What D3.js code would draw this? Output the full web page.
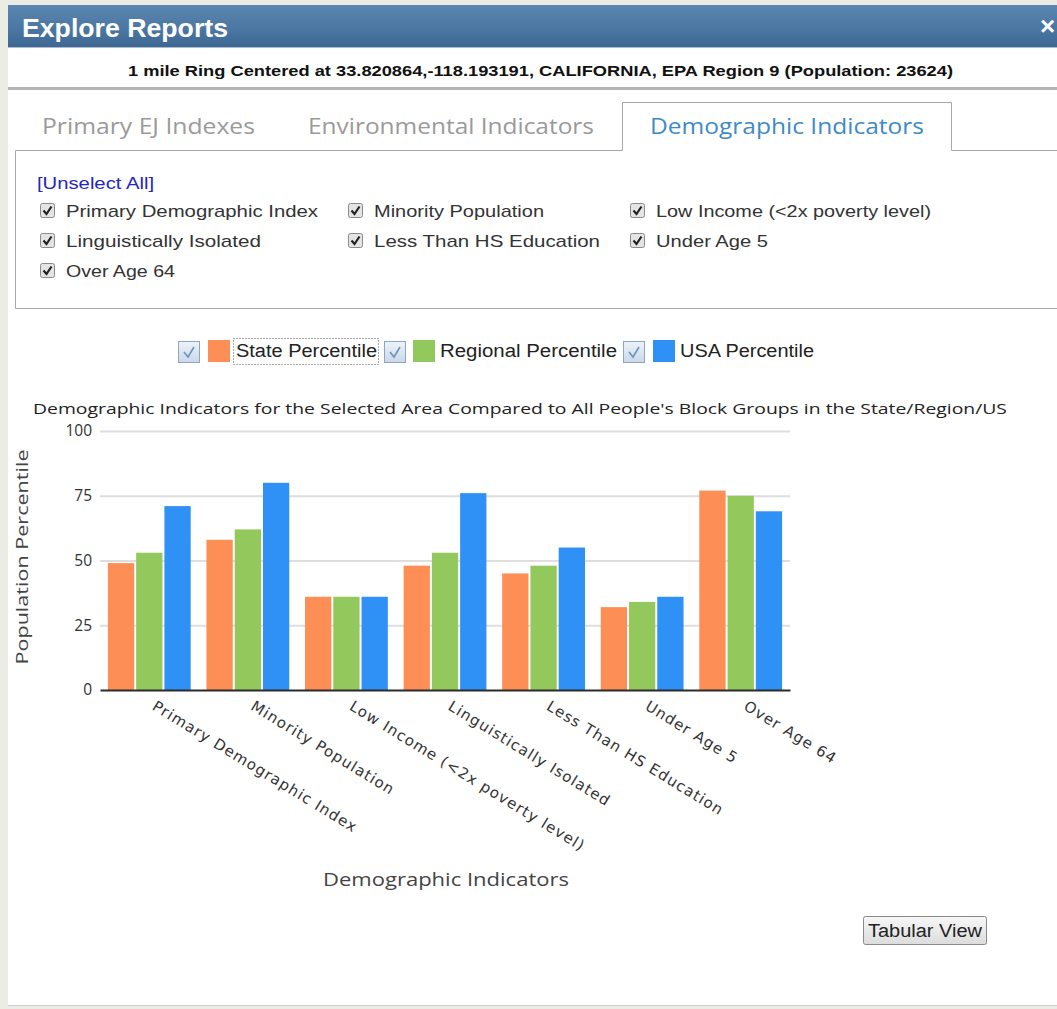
<!DOCTYPE html>
<html><head><meta charset="utf-8">
<script src="https://cdn.jsdelivr.net/npm/d3@7"></script>
<style>
html,body{margin:0;padding:0;background:#ebede5;}
svg{display:block;}
</style></head>
<body>
<svg id="chart" width="1057" height="1009"></svg>
<script>
// ---- data ----
const categories = ["Primary Demographic Index","Minority Population","Low Income (<2x poverty level)","Linguistically Isolated","Less Than HS Education","Under Age 5","Over Age 64"];
const seriesNames = ["State Percentile","Regional Percentile","USA Percentile"];
const statePct    = [49, 58, 36, 48, 45, 32, 77];
const regionalPct = [53, 62, 36, 53, 48, 34, 75];
const usaPct      = [71, 80, 36, 76, 55, 36, 69];
const yTicks = [0, 25, 50, 75, 100];
const colors = ["#fd8e56", "#93c95c", "#2f90f6"];

const svg = d3.select("#chart");
const defs = svg.append("defs");
const g1 = defs.append("linearGradient").attr("id","tb").attr("x1",0).attr("y1",0).attr("x2",0).attr("y2",1);
g1.append("stop").attr("offset","0%").attr("stop-color","#5a86b1");
g1.append("stop").attr("offset","55%").attr("stop-color","#4b77a3");
g1.append("stop").attr("offset","100%").attr("stop-color","#3e6892");
const g2 = defs.append("linearGradient").attr("id","btn").attr("x1",0).attr("y1",0).attr("x2",0).attr("y2",1);
g2.append("stop").attr("offset","0%").attr("stop-color","#f7f7f7");
g2.append("stop").attr("offset","100%").attr("stop-color","#dcdcdc");
const g3 = defs.append("linearGradient").attr("id","cb").attr("x1",0).attr("y1",0).attr("x2",0).attr("y2",1);
g3.append("stop").attr("offset","0%").attr("stop-color","#eef3f9");
g3.append("stop").attr("offset","100%").attr("stop-color","#c9d8ea");

function txt(parent, x, y, s, len, o) {
  o = o || {};
  const t = parent.append("text").attr("x", x).attr("y", y).text(s)
    .attr("font-family", o.family || "Liberation Sans, Arial, sans-serif")
    .attr("font-size", o.size || 16)
    .attr("fill", o.fill || "#222")
    .attr("font-weight", o.weight || "normal");
  if (o.anchor) t.attr("text-anchor", o.anchor);
  if (len) t.attr("textLength", len).attr("lengthAdjust", "spacingAndGlyphs");
  return t;
}

// dialog
svg.append("rect").attr("x",8).attr("y",5).attr("width",1049).attr("height",1001).attr("fill","#ffffff");
svg.append("rect").attr("x",8).attr("y",5).attr("width",1049).attr("height",42).attr("fill","url(#tb)");
svg.append("line").attr("x1",8).attr("x2",1057).attr("y1",47.5).attr("y2",47.5).attr("stroke","#a9bccd");
txt(svg, 22, 37, "Explore Reports", 206, {size:26, weight:"bold", fill:"#ffffff"});
txt(svg, 1040, 35, "×", null, {size:26, weight:"bold", fill:"#ffffff"});
txt(svg, 128, 76, "1 mile Ring Centered at 33.820864,-118.193191, CALIFORNIA, EPA Region 9 (Population: 23624)", 825, {size:15, weight:"bold", fill:"#111"});
svg.append("rect").attr("x",8).attr("y",87).attr("width",1049).attr("height",3).attr("fill","#b4b4b4");
svg.append("line").attr("x1",8).attr("x2",1057).attr("y1",1005.5).attr("y2",1005.5).attr("stroke","#d0d0d0");

// tabs
const tabFont = "Open Sans, Noto Sans, sans-serif";
txt(svg, 42, 134, "Primary EJ Indexes", 213, {size:22, family:tabFont, fill:"#9a9a9a"});
txt(svg, 308, 134, "Environmental Indicators", 286, {size:22, family:tabFont, fill:"#9a9a9a"});
svg.append("path").attr("d","M15.5,308.5 V150.5 H622.5 V102.5 H951.5 V150.5 H1057")
  .attr("fill","none").attr("stroke","#a8a8a8");
svg.append("line").attr("x1",15.5).attr("x2",1057).attr("y1",308.5).attr("y2",308.5).attr("stroke","#a8a8a8");
txt(svg, 650, 134, "Demographic Indicators", 274, {size:22, family:tabFont, fill:"#3e8ac6"});

// checkbox list
txt(svg, 37, 189, "[Unselect All]", 117, {size:16, fill:"#2626c4"});
function checkbox(x, y) {
  const gg = svg.append("g");
  gg.append("rect").attr("x",x+0.5).attr("y",y+0.5).attr("width",14).attr("height",14).attr("rx",2)
    .attr("fill","#e4e4e4").attr("stroke","#8a8a8a");
  gg.append("path").attr("d",`M${x+3.5},${y+7.5} L${x+6.5},${y+11} L${x+11.5},${y+3.5}`)
    .attr("fill","none").attr("stroke","#222").attr("stroke-width",2.2);
}
const listItems = [
  [40, 211, "Primary Demographic Index", 252],
  [348, 211, "Minority Population", 170],
  [630, 211, "Low Income (<2x poverty level)", 275],
  [40, 241, "Linguistically Isolated", 195],
  [348, 241, "Less Than HS Education", 226],
  [630, 241, "Under Age 5", 112],
  [40, 271, "Over Age 64", 109]
];
listItems.forEach(([x, yy, s, w]) => {
  checkbox(x, yy - 8);
  txt(svg, x + 26, yy + 6, s, w, {size:17, fill:"#333"});
});

// legend
const legendItems = [
  {cb:178, sq:208, tx:236, w:141},
  {cb:384, sq:413, tx:440, w:177},
  {cb:623, sq:653, tx:680, w:134}
];
legendItems.forEach((l, i) => {
  svg.append("rect").attr("x", l.cb + 0.5).attr("y", 341.5).attr("width", 21).attr("height", 21)
    .attr("fill", "url(#cb)").attr("stroke", "#8fa6c2");
  svg.append("path").attr("d", `M${l.cb+6},${352} L${l.cb+10},${357} L${l.cb+16},${347}`)
    .attr("fill","none").attr("stroke","#6f93bd").attr("stroke-width",1.6);
  svg.append("rect").attr("x", l.sq).attr("y", 340).attr("width", 22).attr("height", 22).attr("fill", colors[i]);
  txt(svg, l.tx, 357, seriesNames[i], l.w, {size:18, fill:"#222"});
});
svg.append("rect").attr("x",233.5).attr("y",338.5).attr("width",145).attr("height",26)
  .attr("fill","none").attr("stroke","#555").attr("stroke-dasharray","1,2");

// chart
const chartFont = "Open Sans, Noto Sans, sans-serif";
txt(svg, 33, 414, "Demographic Indicators for the Selected Area Compared to All People's Block Groups in the State/Region/US", 974, {size:15, family:chartFont, fill:"#222"});

const plotLeft = 100, plotRight = 790, plotTop = 431, plotBottom = 690;
const x0 = d3.scaleBand().domain(categories).range([plotLeft, plotRight]).paddingInner(0.16).paddingOuter(0.08);
const x1 = d3.scaleBand().domain(seriesNames).range([0, x0.bandwidth()]).paddingInner(0.07);
const y = d3.scaleLinear().domain([0, 100]).range([plotBottom, plotTop]);

const grid = svg.append("g");
grid.selectAll("line").data(yTicks.filter(t => t > 0)).join("line")
  .attr("x1", plotLeft).attr("x2", plotRight)
  .attr("y1", d => y(d) + 0.5).attr("y2", d => y(d) + 0.5)
  .attr("stroke", "#dedede").attr("stroke-width", 2);

const yAxis = svg.append("g").attr("transform", `translate(${plotLeft},0)`)
  .call(d3.axisLeft(y).tickValues(yTicks).tickSize(0).tickPadding(8));
yAxis.select(".domain").remove();
yAxis.selectAll("text").attr("font-family", chartFont).attr("font-size", 15.5).attr("fill", "#333");

const seriesVals = [statePct, regionalPct, usaPct];
const groups = svg.append("g").selectAll("g").data(categories).join("g")
  .attr("transform", d => `translate(${x0(d)},0)`);
groups.selectAll("rect").data((d, ci) => seriesNames.map((s, si) => ({s, si, v: seriesVals[si][ci]})))
  .join("rect")
  .attr("x", d => x1(d.s)).attr("width", x1.bandwidth())
  .attr("y", d => y(d.v)).attr("height", d => y(0) - y(d.v))
  .attr("fill", d => colors[d.si]);

const xAxis = svg.append("g").attr("transform", `translate(0,${plotBottom})`)
  .call(d3.axisBottom(x0).tickSize(0).tickPadding(0));
xAxis.select(".domain").attr("stroke", "#2b2b2b").attr("stroke-width", 2);
xAxis.selectAll(".tick text")
  .attr("font-family", "DejaVu Sans, Verdana, sans-serif").attr("font-size", 15)
  .attr("letter-spacing", 1.1)
  .attr("fill", "#333").attr("text-anchor", "start").attr("dy", 0)
  .attr("transform", "translate(2,19) rotate(31.5)");

txt(svg, 0, 0, "Population Percentile", 215, {size:17, family:chartFont, fill:"#444", anchor:"middle"})
  .attr("transform", "translate(28,557) rotate(-90)");
txt(svg, 446, 886, "Demographic Indicators", 246, {size:19, family:chartFont, fill:"#444", anchor:"middle"});

// button
svg.append("rect").attr("x",863.5).attr("y",916.5).attr("width",123).attr("height",28).attr("rx",2)
  .attr("fill","url(#btn)").attr("stroke","#8a8a8a");
txt(svg, 868, 937, "Tabular View", 114, {size:18, fill:"#222"});
</script>
</body></html>
